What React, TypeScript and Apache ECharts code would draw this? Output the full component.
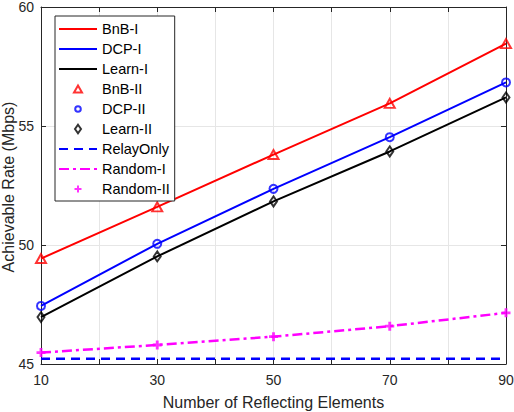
import React, { useEffect, useRef } from "react";
import * as echarts from "echarts";

const elements = [10, 30, 50, 70, 90];
const bnb = [49.43, 51.6, 53.8, 55.95, 58.46];
const dcp = [47.44, 50.05, 52.36, 54.53, 56.83];
const learn = [46.97, 49.52, 51.83, 53.93, 56.2];
const relayOnly = [45.22, 45.22, 45.22, 45.22, 45.22];
const random = [45.48, 45.8, 46.15, 46.59, 47.15];
const xTickLabels = ["10", "30", "50", "70", "90"];
const legendNames = [
  "BnB-I",
  "DCP-I",
  "Learn-I",
  "BnB-II",
  "DCP-II",
  "Learn-II",
  "RelayOnly",
  "Random-I",
  "Random-II",
];
const lineNames = ["BnB-I", "DCP-I", "Learn-I", "RelayOnly", "Random-I"];
const yTitle = "Achievable Rate (Mbps)";
const xTitle = "Number of Reflecting Elements";

const FONT = "'Liberation Sans', Arial, Helvetica, sans-serif";
const TXT = "#262626";
const PLUS =
  "path://M3.4,0 L6.6,0 L6.6,3.4 L10,3.4 L10,6.6 L6.6,6.6 L6.6,10 L3.4,10 L3.4,6.6 L0,6.6 L0,3.4 L3.4,3.4 Z";

// legend icons drawn inside a 38x12 box (moveTo corners fix the bounding box)
const BOX = "path://M0,0 M38,12 ";
const legendIcons: Record<string, string> = {
  "BnB-II": BOX + "M15,9.5 L23,9.5 L19,2.5 Z",
  "DCP-II": BOX + "M16.2,6 A2.8,2.8 0 1,0 21.8,6 A2.8,2.8 0 1,0 16.2,6 Z",
  "Learn-II": BOX + "M19,1.75 L22,6 L19,10.25 L16,6 Z",
  "Random-II":
    BOX +
    "M18,2.5 L20,2.5 L20,5 L22.5,5 L22.5,7 L20,7 L20,9.5 L18,9.5 L18,7 L15.5,7 L15.5,5 L18,5 Z",
};

const pts = (ys: number[]) => elements.map((x, i) => [x, ys[i]]);

export default function App() {
  const ref = useRef<HTMLDivElement>(null);
  useEffect(() => {
    if (!ref.current) return;
    const chart = echarts.init(ref.current, undefined, { renderer: "svg" });
    const lineSeries = (name: string, data: number[], color: string, type: any = "solid", width = 2) => ({
      name,
      type: "line",
      data: pts(data),
      symbol: "none",
      lineStyle: { color, width, type },
      itemStyle: { color },
      z: 2,
    });
    const markerSeries = (name: string, data: number[], color: string, symbol: string, size: any, filled = false, bw = 2) => ({
      name,
      type: "scatter",
      data: pts(data),
      symbol,
      symbolSize: size,
      itemStyle: filled
        ? { color }
        : { color: "rgba(255,255,255,0)", borderColor: color, borderWidth: bw },
      z: 3,
    });
    chart.setOption({
      animation: false,
      backgroundColor: "#fff",
      textStyle: { fontFamily: FONT },
      grid: { left: 41, right: 8, top: 7, bottom: 48, outerBoundsMode: "none" },
      graphic: [
        {
          type: "text",
          x: 8,
          y: 187,
          rotation: Math.PI / 2,
          style: {
            text: yTitle,
            font: `16px ${FONT}`,
            fill: TXT,
            textAlign: "center",
            textVerticalAlign: "middle",
          },
        },
      ],
      legend: {
        orient: "vertical",
        left: 55,
        top: 16,
        padding: [5, 5, 4, 3],
        itemWidth: 38,
        itemHeight: 12,
        itemGap: 4,
        itemTextGap: 2,
        backgroundColor: "#fff",
        borderColor: TXT,
        borderWidth: 1,
        textStyle: { fontSize: 14.5, color: "#000", fontFamily: FONT, lineHeight: 16 },
        data: legendNames.map((n) =>
          lineNames.includes(n)
            ? {
                name: n,
                itemStyle: {
                  color: "rgba(0,0,0,0)",
                  borderColor: "rgba(0,0,0,0)",
                  borderWidth: 0,
                  opacity: 0,
                },
              }
            : { name: n, icon: legendIcons[n] }
        ),
      },
      xAxis: [
        {
          type: "value",
          min: 10,
          max: 90,
          interval: 10,
          name: xTitle,
          nameLocation: "middle",
          nameGap: 30,
          nameTextStyle: { fontSize: 16, color: TXT, fontFamily: FONT },
          axisLine: { show: true, lineStyle: { color: TXT, width: 1 } },
          axisTick: { show: true, inside: true, length: 5, lineStyle: { color: TXT } },
          axisLabel: {
            fontSize: 14,
            color: TXT,
            margin: 9,
            fontFamily: FONT,
            formatter: (v: number) => (xTickLabels.includes(String(v)) ? String(v) : ""),
          },
          splitLine: { show: true, lineStyle: { color: "#e6e6e6", width: 1 } },
        },
        {
          type: "value",
          position: "top",
          min: 10,
          max: 90,
          interval: 10,
          axisLine: { show: true, lineStyle: { color: TXT, width: 1 } },
          axisTick: { show: true, inside: true, length: 5, lineStyle: { color: TXT } },
          axisLabel: { show: false },
          splitLine: { show: false },
        },
      ],
      yAxis: [
        {
          type: "value",
          min: 45,
          max: 60,
          interval: 5,
          axisLine: { show: true, lineStyle: { color: TXT, width: 1 } },
          axisTick: { show: true, inside: true, length: 5, lineStyle: { color: TXT } },
          axisLabel: { fontSize: 14, lineHeight: 12, color: TXT, margin: 7, fontFamily: FONT },
          splitLine: { show: true, lineStyle: { color: "#e6e6e6", width: 1 } },
        },
        {
          type: "value",
          position: "right",
          min: 45,
          max: 60,
          interval: 5,
          axisLine: { show: true, lineStyle: { color: TXT, width: 1 } },
          axisTick: { show: true, inside: true, length: 5, lineStyle: { color: TXT } },
          axisLabel: { show: false },
          splitLine: { show: false },
        },
      ],
      series: [
        lineSeries("BnB-I", bnb, "#ff0000"),
        lineSeries("DCP-I", dcp, "#0000ff"),
        lineSeries("Learn-I", learn, "#000000"),
        markerSeries("BnB-II", bnb, "#ff0000", "triangle", [10, 9]),
        markerSeries("DCP-II", dcp, "#0000ff", "circle", 8),
        markerSeries("Learn-II", learn, "#000000", "diamond", [7, 10], false, 2),
        lineSeries("RelayOnly", relayOnly, "#0000ff", [9, 6], 2.5),
        lineSeries("Random-I", random, "#ff00ff", [10, 4, 3, 4], 2.5),
        markerSeries("Random-II", random, "#ff00ff", PLUS, 9, true),
      ],
    });
    return () => chart.dispose();
  }, []);
  return (
    <div
      ref={ref}
      style={{ position: "fixed", left: 0, top: 0, width: 514, height: 412 }}
    />
  );
}
